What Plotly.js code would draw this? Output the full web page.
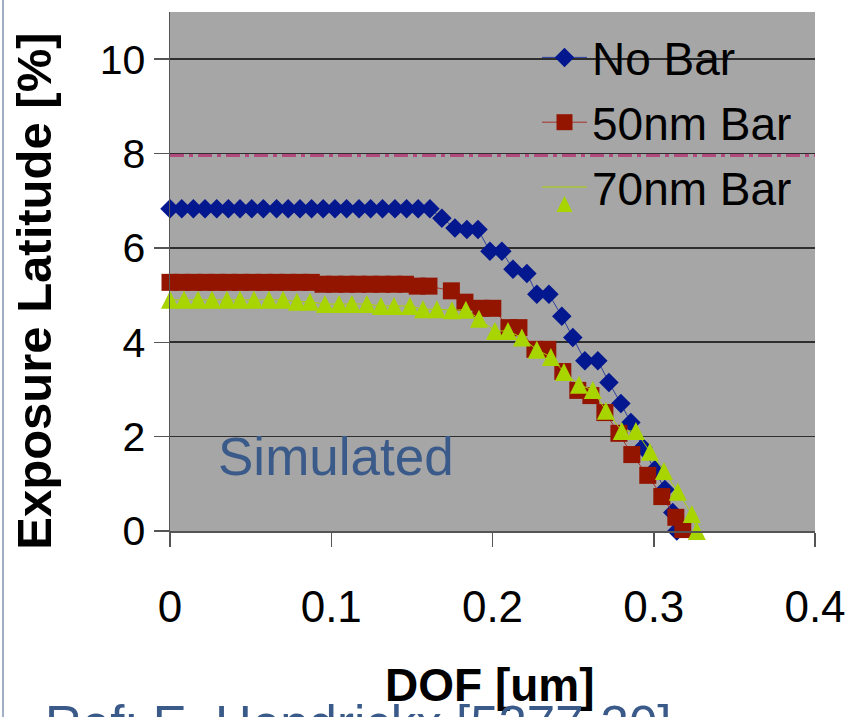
<!DOCTYPE html>
<html>
<head>
<meta charset="utf-8">
<script src="https://cdn.plot.ly/plotly-3.0.1.min.js"></script>
<style>
  html, body { margin: 0; padding: 0; background: #ffffff; overflow: hidden; }
  #chart { width: 846px; height: 717px; }
</style>
</head>
<body>
<div id="chart"></div>
<script>
// Exposure latitude (%) versus depth of focus (um), simulated for three bar cases
const seriesNames = ['No Bar', '50nm Bar', '70nm Bar'];

const noBarDof = [0, 0.0073, 0.0145, 0.0217, 0.0290, 0.0362, 0.0434, 0.0507, 0.0579, 0.0661,
  0.0733, 0.0806, 0.0878, 0.0950, 0.1023, 0.1095, 0.1172, 0.1244, 0.1318, 0.1395,
  0.1467, 0.1539, 0.1612, 0.1686, 0.1767, 0.1841, 0.1910, 0.1984, 0.2058, 0.2127,
  0.2213, 0.2275, 0.2350, 0.2430, 0.2498, 0.2573, 0.2653, 0.2722, 0.2796, 0.2858,
  0.2932, 0.3007, 0.3069, 0.3118, 0.3143];
const noBarEl = [6.83, 6.83, 6.83, 6.83, 6.83, 6.83, 6.83, 6.83, 6.83, 6.83,
  6.83, 6.83, 6.83, 6.83, 6.83, 6.83, 6.83, 6.83, 6.83, 6.83,
  6.83, 6.83, 6.83, 6.63, 6.42, 6.39, 6.39, 5.93, 5.93, 5.55,
  5.46, 5.02, 5.02, 4.55, 4.10, 3.61, 3.61, 3.15, 2.70, 2.30,
  1.77, 1.30, 0.88, 0.39, 0.00];

const bar50Dof = [0, 0.0073, 0.0146, 0.0219, 0.0292, 0.0365, 0.0438, 0.0511, 0.0584, 0.0657,
  0.0730, 0.0803, 0.0876, 0.0949, 0.1022, 0.1095, 0.1168, 0.1241, 0.1314, 0.1387,
  0.1460, 0.1533, 0.1606, 0.1745, 0.1829, 0.1928, 0.2002, 0.2102, 0.2164, 0.2263,
  0.2343, 0.2436, 0.2529, 0.2610, 0.2697, 0.2784, 0.2864, 0.2963, 0.3050, 0.3137,
  0.3180];
const bar50El = [5.27, 5.27, 5.27, 5.27, 5.27, 5.27, 5.27, 5.27, 5.27, 5.27,
  5.27, 5.27, 5.27, 5.23, 5.23, 5.23, 5.23, 5.23, 5.23, 5.23,
  5.23, 5.19, 5.19, 5.09, 4.85, 4.72, 4.72, 4.31, 4.31, 3.85,
  3.85, 3.38, 2.98, 2.87, 2.51, 2.07, 1.62, 1.18, 0.73, 0.29,
  0.03];

const bar70Dof = [0, 0.0087, 0.0174, 0.0260, 0.0353, 0.0434, 0.0521, 0.0614, 0.0701, 0.0787,
  0.0868, 0.0961, 0.1048, 0.1128, 0.1221, 0.1308, 0.1389, 0.1488, 0.1569, 0.1655,
  0.1748, 0.1835, 0.1916, 0.2015, 0.2096, 0.2182, 0.2275, 0.2362, 0.2443, 0.2536,
  0.2622, 0.2703, 0.2802, 0.2889, 0.2976, 0.3063, 0.3149, 0.3236, 0.3267];
const bar70El = [4.90, 4.90, 4.90, 4.90, 4.90, 4.90, 4.90, 4.90, 4.90, 4.86,
  4.86, 4.81, 4.81, 4.81, 4.81, 4.77, 4.77, 4.77, 4.70, 4.70,
  4.68, 4.69, 4.50, 4.24, 4.24, 4.10, 3.84, 3.69, 3.37, 3.10,
  2.99, 2.55, 2.12, 2.12, 1.68, 1.27, 0.83, 0.36, 0.00];

// Specification level drawn as a dash-dot reference line
const specDof = [0, 0.4];
const specEl = [7.96, 7.96];

const xTickVals = [0, 0.1, 0.2, 0.3, 0.4];
const xTickText = ['0', '0.1', '0.2', '0.3', '0.4'];
const yTickVals = [0, 2, 4, 6, 8, 10];
const yTickText = ['0', '2', '4', '6', '8', '10'];

const FONT = '"Liberation Sans", Arial, Helvetica, sans-serif';

const traces = [
  {
    x: specDof, y: specEl, mode: 'lines', showlegend: false, hoverinfo: 'skip',
    line: { color: '#b04a7c', width: 3, dash: '14px,5px,4px,5px' }
  },
  {
    x: noBarDof, y: noBarEl, name: seriesNames[0], mode: 'lines+markers',
    legendgroup: 'a', cliponaxis: false,
    line: { color: '#2a3f9e', width: 1 },
    marker: { symbol: 'diamond', size: 15, color: '#03178f', line: { width: 0 } }
  },
  {
    x: bar50Dof, y: bar50El, name: seriesNames[1], mode: 'lines+markers',
    legendgroup: 'b', cliponaxis: false,
    line: { color: '#a3332a', width: 1 },
    marker: { symbol: 'square', size: 17, color: '#931500', line: { width: 0 } }
  },
  {
    // upward triangle centred on each point: a flipped arrow head shifted back by half its height
    x: bar70Dof, y: bar70El, name: seriesNames[2], mode: 'lines+markers',
    legendgroup: 'c', cliponaxis: false,
    line: { color: '#a8d400', width: 1 },
    marker: { symbol: 'arrow-down', angle: 180, size: 18, standoff: 9, color: '#a8d400', line: { width: 0 } }
  }
];

// pixel helpers for placing free text relative to the plot area
const L = 170, R = 815, T = 12, B = 531.5;
const px = v => (v - L) / (R - L);
const py = v => (B - v) / (B - T);

const layout = {
  width: 846, height: 717,
  margin: { l: L, r: 846 - R, t: T, b: 717 - B, pad: 0 },
  paper_bgcolor: '#ffffff',
  plot_bgcolor: '#a6a6a6',
  font: { family: FONT, color: '#000000' },
  showlegend: true,
  legend: {
    x: px(537), y: py(21), xanchor: 'left', yanchor: 'top',
    bgcolor: 'rgba(0,0,0,0)', borderwidth: 0,
    font: { family: FONT, size: 46, color: '#000000' },
    traceorder: 'grouped', tracegroupgap: 2, itemwidth: 45
  },
  xaxis: {
    range: [0, 0.4], tickvals: xTickVals, ticktext: xTickText,
    ticks: 'outside', ticklen: 14, tickwidth: 1.5, tickcolor: '#555555',
    showline: true, linecolor: '#555555', linewidth: 1.5,
    showgrid: false, zeroline: false,
    tickfont: { family: FONT, size: 44, color: '#000000' },
    ticklabelstandoff: 23, fixedrange: true
  },
  yaxis: {
    range: [0, 11], tickvals: yTickVals, ticktext: yTickText,
    ticks: 'outside', ticklen: 15, tickwidth: 1.5, tickcolor: '#555555',
    showline: true, linecolor: '#555555', linewidth: 1.5,
    showgrid: true, gridcolor: '#2e2e2e', gridwidth: 1.6, zeroline: false,
    tickfont: { family: FONT, size: 41, color: '#000000' },
    ticklabelstandoff: 0, fixedrange: true
  },
  annotations: [
    {
      text: '<b>Exposure Latitude [%]</b>', textangle: -90,
      xref: 'paper', yref: 'paper', x: px(34), y: py(292),
      xanchor: 'center', yanchor: 'middle', showarrow: false,
      font: { family: FONT, size: 49, color: '#000000' }
    },
    {
      text: '<b>DOF [um]</b>',
      xref: 'paper', yref: 'paper', x: px(490), y: py(686),
      xanchor: 'center', yanchor: 'middle', showarrow: false,
      font: { family: FONT, size: 46, color: '#000000' }
    },
    {
      text: 'Simulated',
      xref: 'paper', yref: 'paper', x: px(336), y: py(457),
      xanchor: 'center', yanchor: 'middle', showarrow: false,
      font: { family: FONT, size: 53, color: '#3a5a8a' }
    },
    {
      text: 'Ref: E. Hendrickx [5377-30]',
      xref: 'paper', yref: 'paper', x: px(43), y: py(725),
      xanchor: 'left', yanchor: 'middle', showarrow: false,
      font: { family: FONT, size: 51, color: '#3a5a8a' }
    }
  ],
  shapes: [
    {
      type: 'line', xref: 'paper', yref: 'paper',
      x0: px(3), x1: px(3), y0: py(-5), y1: py(720),
      line: { color: '#9fb0c4', width: 2 }
    }
  ]
};

Plotly.newPlot('chart', traces, layout, { displayModeBar: false, staticPlot: true });
</script>
</body>
</html>
